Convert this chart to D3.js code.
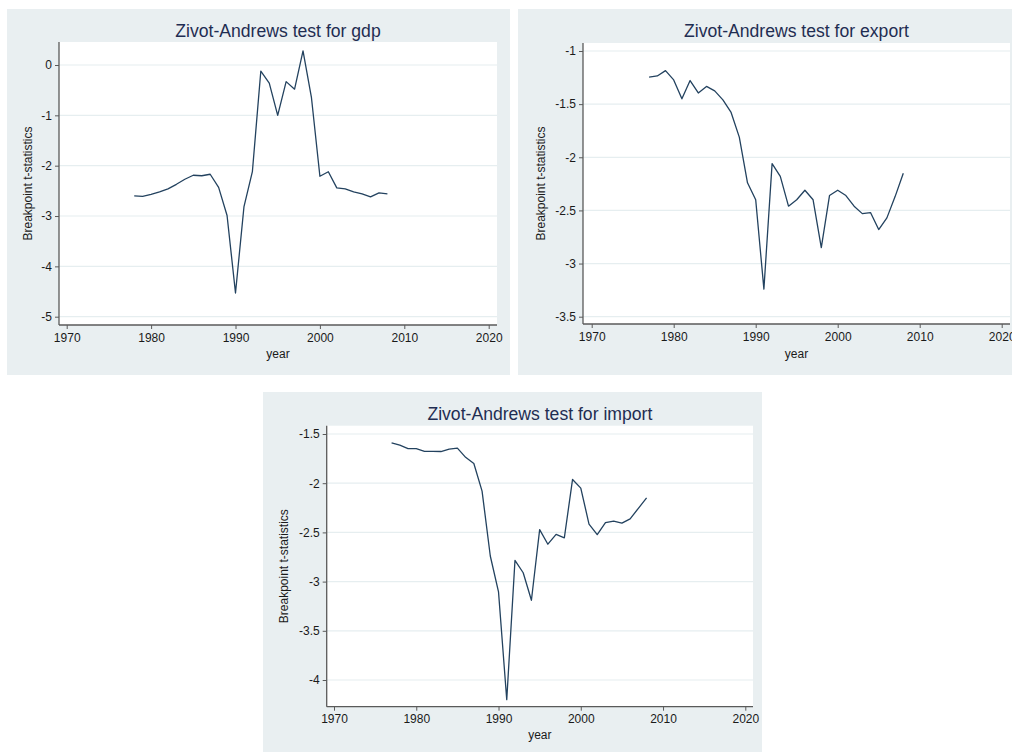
<!DOCTYPE html>
<html>
<head>
<meta charset="utf-8">
<script src="https://cdn.jsdelivr.net/npm/d3@7"></script>
<style>
  html, body { margin: 0; padding: 0; background: #ffffff; }
  svg { display: block; font-family: "Liberation Sans", Arial, Helvetica, sans-serif; }
</style>
</head>
<body>
<svg id="chart" width="1012" height="753"></svg>
<script>
// Zivot-Andrews breakpoint t-statistics by year
const gdpYears = d3.range(1978, 2009);
const gdpStats = [-2.60, -2.61, -2.57, -2.52, -2.46, -2.37, -2.27, -2.19, -2.20, -2.17,
                  -2.43, -2.99, -4.53, -2.82, -2.12, -0.12, -0.36, -1.00, -0.33, -0.48,
                   0.28, -0.65, -2.21, -2.12, -2.44, -2.46, -2.52, -2.56, -2.62, -2.54, -2.56];

const exportYears = d3.range(1977, 2009);
const exportStats = [-1.245, -1.235, -1.185, -1.272, -1.45, -1.278, -1.395, -1.333, -1.375, -1.46,
                     -1.578, -1.81, -2.24, -2.40, -3.24, -2.06, -2.18, -2.46, -2.40, -2.31,
                     -2.40, -2.85, -2.36, -2.31, -2.36, -2.46, -2.53, -2.52, -2.68, -2.57,
                     -2.37, -2.15];

const importYears = d3.range(1977, 2009);
const importStats = [-1.59, -1.614, -1.649, -1.649, -1.677, -1.677, -1.678, -1.654, -1.643, -1.737,
                     -1.80, -2.08, -2.74, -3.105, -4.20, -2.785, -2.91, -3.19, -2.472, -2.62,
                     -2.52, -2.555, -1.962, -2.05, -2.415, -2.523, -2.40, -2.385, -2.405, -2.362,
                     -2.255, -2.15];

const yearTicks = [1970, 1980, 1990, 2000, 2010, 2020];
const gdpTicks = [0, -1, -2, -3, -4, -5];
const exportTicks = [-1, -1.5, -2, -2.5, -3, -3.5];
const importTicks = [-1.5, -2, -2.5, -3, -3.5, -4];

const titles = ["Zivot-Andrews test for gdp", "Zivot-Andrews test for export", "Zivot-Andrews test for import"];
const xTitle = "year";
const yTitle = "Breakpoint t-statistics";

const BG = "#e9eff1";
const LINE = "#23425f";
const INK = "#1a1a1a";
const TITLE_INK = "#1f2d52";

// plain hyphen-minus tick labels
const plain = d => String(d);

const svg = d3.select("#chart");

// Panel geometry: outer box, plot region, and where the axis ends map to.
const panels = [
  { title: titles[0], years: gdpYears, stats: gdpStats, yTicks: gdpTicks,
    box: [7, 9, 510, 375], plot: [59, 42, 497, 325],
    xDom: [1970, 2020], xRange: [66.7, 488.7],
    yDom: [-5, 0], yRange: [316.7, 65],
    titleY: 37, xTitleY: 358, yTitleX: 28 },
  { title: titles[1], years: exportYears, stats: exportStats, yTicks: exportTicks,
    box: [518, 9, 1014, 375], plot: [583, 43, 1010, 324],
    xDom: [1970, 2020], xRange: [591.7, 1001.7],
    yDom: [-3.5, -1], yRange: [316.7, 51],
    titleY: 37, xTitleY: 358, yTitleX: 541 },
  { title: titles[2], years: importYears, stats: importStats, yTicks: importTicks,
    box: [263, 392, 762, 752], plot: [326.7, 425.7, 753, 706.7],
    xDom: [1970, 2020], xRange: [334, 745.3],
    yDom: [-4, -1.5], yRange: [680, 434],
    titleY: 420, xTitleY: 739, yTitleX: 284 }
];

panels.forEach(p => {
  const g = svg.append("g");
  const [bx0, by0, bx1, by1] = p.box;
  const [px0, py0, px1, py1] = p.plot;

  g.append("rect")
    .attr("x", bx0).attr("y", by0)
    .attr("width", bx1 - bx0).attr("height", by1 - by0)
    .attr("fill", BG);

  g.append("rect")
    .attr("x", px0).attr("y", py0)
    .attr("width", px1 - px0).attr("height", py1 - py0)
    .attr("fill", "#ffffff");

  const x = d3.scaleLinear().domain(p.xDom).range(p.xRange);
  const y = d3.scaleLinear().domain(p.yDom).range(p.yRange);

  // horizontal grid lines
  g.append("g").selectAll("line")
    .data(p.yTicks)
    .join("line")
    .attr("x1", px0).attr("x2", px1)
    .attr("y1", d => y(d)).attr("y2", d => y(d))
    .attr("stroke", "#e6eef0")
    .attr("stroke-width", 1.2);

  // series line
  const line = d3.line()
    .x((d, i) => x(p.years[i]))
    .y(d => y(d));
  g.append("path")
    .datum(p.stats)
    .attr("d", line)
    .attr("fill", "none")
    .attr("stroke", LINE)
    .attr("stroke-width", 1.3)
    .attr("stroke-linejoin", "round");

  // y axis
  const yAxis = d3.axisLeft(y).tickValues(p.yTicks).tickSize(4).tickPadding(3)
    .tickFormat(plain);
  const ya = g.append("g").attr("transform", `translate(${px0},0)`).call(yAxis);
  ya.select(".domain").attr("d", `M0,${py0}V${py1}`);

  // x axis
  const xAxis = d3.axisBottom(x).tickValues(yearTicks).tickSize(4).tickPadding(4)
    .tickFormat(plain);
  const xa = g.append("g").attr("transform", `translate(0,${py1})`).call(xAxis);
  xa.select(".domain").attr("d", `M${px0},0H${px1}`);

  [ya, xa].forEach(a => {
    a.select(".domain").attr("stroke", "#5a5a5a").attr("stroke-width", 1.3);
    a.selectAll(".tick line").attr("stroke", "#5a5a5a").attr("stroke-width", 1);
    a.selectAll(".tick text")
      .attr("fill", INK)
      .style("font-size", "12px")
      .style("font-family", "'Liberation Sans', Arial, sans-serif");
  });

  // titles
  const cx = (px0 + px1) / 2;
  g.append("text")
    .attr("x", cx).attr("y", p.titleY)
    .attr("text-anchor", "middle")
    .attr("fill", TITLE_INK)
    .style("font-size", "17.6px")
    .text(p.title);

  g.append("text")
    .attr("x", cx).attr("y", p.xTitleY)
    .attr("text-anchor", "middle")
    .attr("fill", INK)
    .style("font-size", "12px")
    .text(xTitle);

  const cy = (py0 + py1) / 2;
  g.append("text")
    .attr("transform", `translate(${p.yTitleX + 4},${cy}) rotate(-90)`)
    .attr("text-anchor", "middle")
    .attr("fill", INK)
    .style("font-size", "12px")
    .text(yTitle);
});
</script>
</body>
</html>
